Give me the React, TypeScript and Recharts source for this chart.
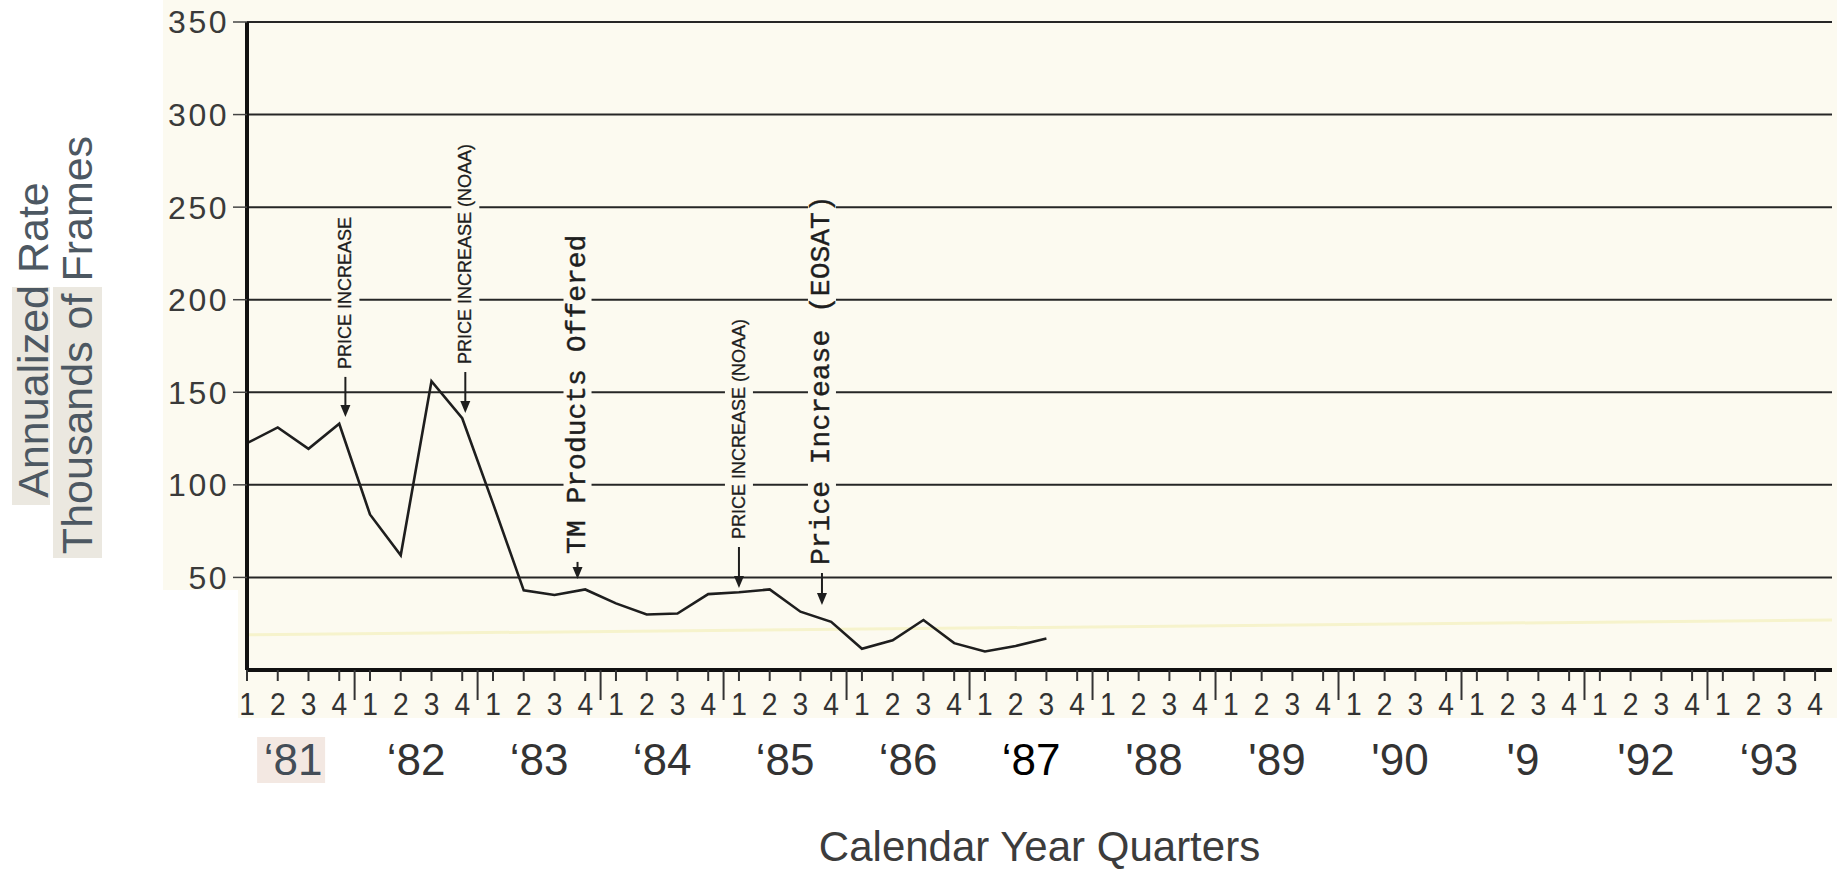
import React from "react"
import {
  LineChart,
  Line,
  XAxis,
  YAxis,
  CartesianGrid,
  ReferenceDot,
  ReferenceLine,
  Label,
} from "recharts"

// quarterly annualized rate, thousands of frames, '81 Q1 .. '87 Q3
const FRAMES = [
  122.5, 131, 119.5, 133, 84, 62, 156, 136, 90, 43, 40.5, 43.5, 36, 30,
  30.5, 41, 42, 43.5, 31.5, 26, 11.5, 16, 27, 14.5, 10, 13, 17,
]
const QUARTERS = ["1", "2", "3", "4"]
const YEARS = ["‘81", "‘82", "‘83", "‘84", "‘85", "‘86", "‘87", "'88", "'89", "'90", "'9", "'92", "‘93"]
const Y_TICKS = [50, 100, 150, 200, 250, 300, 350]

// events: quarter position (0 = '81 Q1) and the value the arrow points at
const EVENTS = [
  { q: 3.2, at: 136.7, text: "PRICE INCREASE", mono: false },
  { q: 7.1, at: 138.8, text: "PRICE INCREASE (NOAA)", mono: false },
  { q: 10.75, at: 49.2, text: "TM Products Offered", mono: true },
  { q: 16.0, at: 44.3, text: "PRICE INCREASE (NOAA)", mono: false },
  { q: 18.7, at: 35.1, text: "Price Increase (EOSAT)", mono: true },
]
const STEMS = [40, 41, 17, 41, 32]

// faint yellow streak in the scan, start/end value
const STREAK = [19, 27]

const CREAM = "#fcfaf0"
const INK = "#1e1e1e"
const SANS = "'Liberation Sans', Arial, Helvetica, sans-serif"
const MONO = "'Liberation Mono', 'Courier New', monospace"
const X_MAX = 51.55

const data = FRAMES.map((v, i) => ({ idx: i, value: v }))
const quarterTicks: number[] = []
YEARS.forEach((_, y) => {
  QUARTERS.forEach((_, q) => quarterTicks.push(y * 4 + q))
  if (y < YEARS.length - 1) quarterTicks.push(y * 4 + 3.5)
})
const yearTicks = YEARS.map((_, y) => y * 4 + 1.5)

let ctx: CanvasRenderingContext2D | null = null
function measure(text: string, font: string, fs: number) {
  if (!ctx) ctx = document.createElement("canvas").getContext("2d")
  if (!ctx) return text.length * fs * 0.62
  ctx.font = font
  return ctx.measureText(text).width
}

function QuarterTick(props: any) {
  const { x, y, payload } = props
  const v = payload.value as number
  if (v % 1 !== 0) {
    return <line x1={x} y1={y} x2={x} y2={y + 30} stroke="#333" strokeWidth={2} />
  }
  return (
    <g>
      <line x1={x} y1={y} x2={x} y2={y + 11} stroke="#333" strokeWidth={2} />
      <text
        transform={`translate(${x},${y + 45}) scale(0.88,1)`}
        textAnchor="middle"
        fontSize={32}
        fontFamily={SANS}
        fill="#333"
      >
        {QUARTERS[v % 4]}
      </text>
    </g>
  )
}

function YearTick(props: any) {
  const { x, y, payload } = props
  const k = Math.round((payload.value - 1.5) / 4)
  const fill = k === 0 ? "#434d57" : k === 6 ? "#000" : "#333"
  return (
    <g>
      {k === 0 && <rect x={x - 36} y={y + 12} width={68} height={46} fill="#f3e8e2" />}
      <text x={x} y={y + 50} textAnchor="middle" fontSize={44} fontFamily={SANS} fill={fill}>
        {YEARS[k]}
      </text>
    </g>
  )
}

function YTitle() {
  return (
    <g fontFamily={SANS} fontSize={43} fill="#4d5862">
      <rect x={12} y={287} width={38} height={218} fill="#ebe8e0" />
      <rect x={53} y={287} width={49} height={271} fill="#ebe8e0" />
      <text transform="translate(33,340) rotate(-90)" textAnchor="middle" dominantBaseline="central">
        Annualized Rate
      </text>
      <text transform="translate(77,345) rotate(-90)" textAnchor="middle" dominantBaseline="central">
        Thousands of Frames
      </text>
    </g>
  )
}

function EventMark({ cx, cy, text, mono, stem }: any) {
  const fs = mono ? 28 : 18
  const family = mono ? MONO : SANS
  const len = measure(text, `${fs}px ${family}`, fs)
  const bottom = cy - stem - 8
  return (
    <g>
      <rect x={cx - 14} y={bottom - len - 5} width={28} height={len + 10} fill={CREAM} />
      <text
        transform={`translate(${cx},${bottom}) rotate(-90)`}
        fontSize={fs}
        fontFamily={family}
        fill={INK}
        stroke={INK}
        strokeWidth={mono ? 0.4 : 0.3}
        dominantBaseline="central"
      >
        {text}
      </text>
      <line x1={cx} y1={cy - stem} x2={cx} y2={cy - 9} stroke={INK} strokeWidth={2} />
      <path d={`M${cx - 5},${cy - 12} L${cx + 5},${cy - 12} L${cx},${cy} Z`} fill={INK} />
    </g>
  )
}

export default function App() {
  return (
    <div style={{ position: "fixed", left: 0, top: 0, width: 1843, height: 871, background: "#fff", overflow: "hidden" }}>
      <div style={{ position: "absolute", left: 163, top: 0, width: 1674, height: 590, background: CREAM }} />
      <div style={{ position: "absolute", left: 238, top: 590, width: 1599, height: 128, background: CREAM }} />
      <div style={{ position: "absolute", left: 0, top: 0 }}>
        <LineChart width={1843} height={871} data={data} margin={{ top: 22, right: 11, bottom: 86, left: 0 }}>
          <CartesianGrid xAxisId="q" vertical={false} stroke="#262626" strokeWidth={2} />
          <XAxis
            xAxisId="q"
            type="number"
            dataKey="idx"
            domain={[0, X_MAX]}
            ticks={quarterTicks}
            interval={0}
            tick={<QuarterTick />}
            tickLine={false}
            tickSize={0}
            tickMargin={0}
            axisLine={{ stroke: "#111", strokeWidth: 4 }}
            height={55}
          />
          <XAxis
            xAxisId="yr"
            type="number"
            dataKey="idx"
            domain={[0, X_MAX]}
            ticks={yearTicks}
            interval={0}
            tick={<YearTick />}
            tickLine={false}
            tickSize={0}
            tickMargin={0}
            axisLine={false}
            height={60}
          >
            <Label
              value="Calendar Year Quarters"
              position="bottom"
              offset={46}
              style={{ fontSize: 42, fontFamily: SANS, fill: "#3c3c3c" }}
            />
          </XAxis>
          <YAxis
            type="number"
            domain={[0, 350]}
            ticks={Y_TICKS}
            interval={0}
            width={247}
            axisLine={{ stroke: "#111", strokeWidth: 4 }}
            tickLine={{ stroke: "#444", strokeWidth: 1.5 }}
            tickSize={14}
            tickMargin={4}
            tick={{ fontSize: 32, fontFamily: SANS, fill: "#3a3a3a", letterSpacing: 2.5 }}
          >
            <Label content={<YTitle />} />
          </YAxis>
          <ReferenceLine
            xAxisId="q"
            segment={[
              { x: 0, y: STREAK[0] },
              { x: X_MAX, y: STREAK[1] },
            ]}
            stroke="#f6f3cc"
            strokeWidth={3}
          />
          <Line
            xAxisId="q"
            type="linear"
            dataKey="value"
            stroke={INK}
            strokeWidth={2.6}
            dot={false}
            isAnimationActive={false}
          />
          {EVENTS.map((e, i) => (
            <ReferenceDot
              key={i}
              xAxisId="q"
              x={e.q}
              y={e.at}
              r={0}
              ifOverflow="visible"
              shape={(p: any) => <EventMark cx={p.cx} cy={p.cy} text={e.text} mono={e.mono} stem={STEMS[i]} />}
            />
          ))}
        </LineChart>
      </div>
    </div>
  )
}
